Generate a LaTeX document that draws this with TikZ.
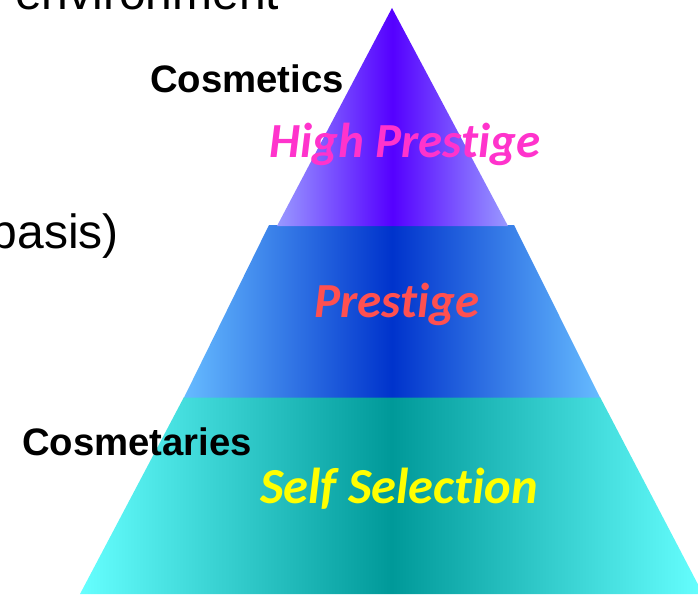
\documentclass[tikz,border=0pt]{standalone}
\usepackage{fontspec}
\setmainfont{Liberation Sans}
\newfontfamily\carl[Ligatures={NoCommon}]{Carlito}
\definecolor{bandAedge}{RGB}{153,153,255}
\definecolor{bandAmid}{RGB}{85,0,255}
\definecolor{bandBedge}{RGB}{102,187,255}
\definecolor{bandBmid}{RGB}{0,51,204}
\definecolor{bandCedge}{RGB}{102,255,255}
\definecolor{bandCmid}{RGB}{0,153,153}
\definecolor{hpcol}{RGB}{255,51,204}
\definecolor{prcol}{RGB}{255,80,80}
\definecolor{sscol}{RGB}{255,255,0}
\begin{document}
\begin{tikzpicture}[x=1pt,y=-1pt,
  lbl/.style={inner sep=0pt,outer sep=0pt},
  blk/.style={lbl,font=\fontsize{38.3}{40}\selectfont\bfseries,text=black},
  big/.style={lbl,font=\fontsize{48}{50}\selectfont,text=black},
  tier/.style={lbl,anchor=base,font=\fontsize{49}{52}\selectfont\carl\bfseries\itshape}]
\useasboundingbox (0,0) rectangle (698,594);
\begin{scope}
\clip (0,0) rectangle (698,594);
\shade[left color=bandCedge, right color=bandCedge, middle color=bandCmid]
  (184,397) -- (600,397) -- (703,594) -- (80,594) -- cycle;
\end{scope}
\shade[left color=bandBedge, right color=bandBedge, middle color=bandBmid]
  (269,225) -- (514,225) -- (600,397.5) -- (184,397.5) -- cycle;
\shade[left color=bandAedge, right color=bandAedge, middle color=bandAmid]
  (392,8) -- (508,226) -- (277,226) -- cycle;
% texts
\node[big,anchor=base west] (env) at (15,10) {environment};
\node[big,anchor=base east] (bas) at (119,248) {basis)};
\node[blk,anchor=base west] (cos) at (150,92) {Cosmetics};
\node[blk,anchor=base west] (car) at (22,455) {Cosmetaries};
\node[tier,text=hpcol] (hp) at (405,157) {High Prestige};
\node[tier,text=prcol] (pr) at (397,317) {Prestige};
\node[tier,text=sscol,font=\fontsize{50.5}{52}\selectfont\carl\bfseries\itshape] (ss) at (399,503) {Self Selection};
\end{tikzpicture}
\end{document}
